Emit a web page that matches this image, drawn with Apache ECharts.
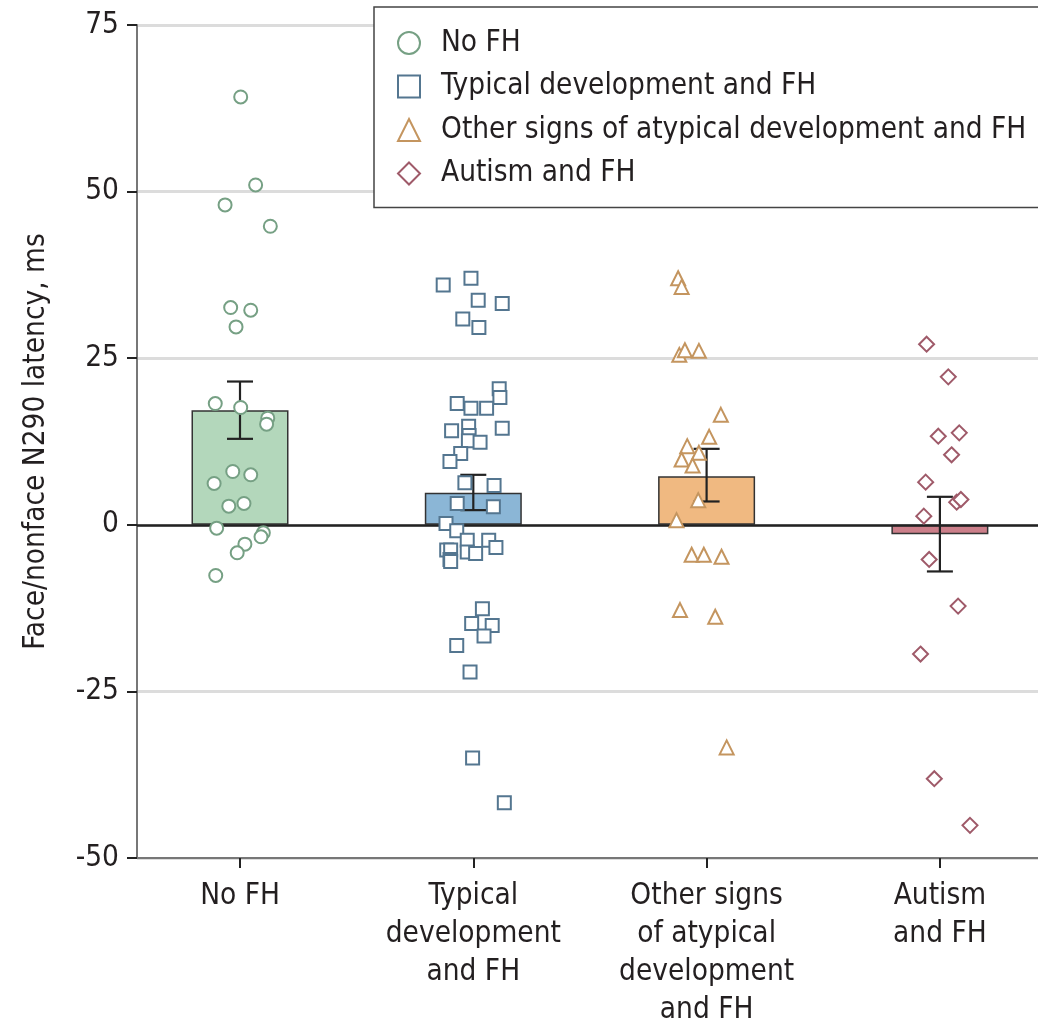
<!DOCTYPE html>
<html>
<head>
<meta charset="utf-8">
<script src="https://cdn.jsdelivr.net/npm/echarts@6/dist/echarts.min.js"></script>
<style>
  html, body { margin: 0; padding: 0; background: #fff; }
  #chart { width: 1038px; height: 1029px; }
</style>
</head>
<body>
<div id="chart"></div>
<script>
var groups = ['No FH', 'Typical development and FH', 'Other signs of atypical development and FH', 'Autism and FH'];
var tickLabels = ['No FH', 'Typical\ndevelopment\nand FH', 'Other signs\nof atypical\ndevelopment\nand FH', 'Autism\nand FH'];
var meanValues = [17.2, 4.8, 7.3, -1.4];
var errLow = [12.9, 2.2, 3.5, -7.0];
var errHigh = [21.5, 7.5, 11.4, 4.2];

// [jittered x position, latency]
var noFhPoints = [
  [1.003, 64.2], [1.067, 51.0], [0.936, 48.0], [1.130, 44.8], [0.960, 32.6], [1.046, 32.2],
  [0.983, 29.7], [0.894, 18.2], [1.003, 17.6], [1.119, 16.0], [1.114, 15.1], [0.969, 8.0],
  [1.046, 7.5], [0.889, 6.2], [0.952, 2.8], [1.017, 3.2], [0.900, -0.5], [1.100, -1.2],
  [1.090, -1.8], [1.021, -2.9], [0.988, -4.2], [0.896, -7.6]
];
var typicalPoints = [
  [1.871, 36.0], [1.990, 37.0], [2.021, 33.7], [2.124, 33.2], [1.955, 30.9], [2.024, 29.6],
  [2.111, 20.4], [2.114, 19.1], [1.931, 18.2], [1.990, 17.5], [2.057, 17.5], [1.907, 14.1],
  [1.980, 14.8], [2.124, 14.5], [1.982, 13.4], [1.979, 12.6], [2.029, 12.4], [1.946, 10.7],
  [1.900, 9.5], [1.964, 6.3], [2.089, 5.9], [1.931, 3.2], [2.086, 2.7], [1.883, 0.2],
  [1.929, -0.9], [1.974, -2.3], [2.066, -2.3], [2.097, -3.4], [1.886, -3.8], [1.903, -3.8],
  [1.974, -4.1], [2.010, -4.3], [1.900, -5.2], [1.903, -5.5], [2.039, -12.6], [1.993, -14.8],
  [2.081, -15.1], [2.046, -16.7], [1.929, -18.1], [1.986, -22.1], [1.997, -35.0], [2.133, -41.7]
];
var otherPoints = [
  [2.878, 37.0], [2.893, 35.7], [2.883, 25.5], [2.907, 26.2], [2.967, 26.1], [3.061, 16.5],
  [3.011, 13.2], [2.917, 11.8], [2.967, 10.8], [2.893, 9.8], [2.940, 8.9], [2.964, 3.7],
  [2.871, 0.7], [2.936, -4.5], [2.988, -4.5], [3.064, -4.8], [2.886, -12.8], [3.037, -13.8],
  [3.086, -33.4]
];
var autismPoints = [
  [3.943, 27.1], [4.036, 22.2], [3.993, 13.3], [4.083, 13.8], [4.050, 10.5], [3.939, 6.4],
  [4.072, 3.4], [4.090, 3.8], [3.931, 1.3], [3.954, -5.2], [4.078, -12.2], [3.917, -19.4],
  [3.976, -38.1], [4.129, -45.1]
];

var strokeColors = ['#76a084', '#547690', '#c4955f', '#9f5a69'];
var barColors = ['#b3d7bb', '#8bb6d6', '#f0b981', '#cc7f8a'];
var symbols = ['circle', 'rect', 'triangle', 'diamond'];
var symbolSizes = [13, 13, 14, 15];
var pointSets = [noFhPoints, typicalPoints, otherPoints, autismPoints];

var font = "'Liberation Sans Narrow', 'DejaVu Sans Condensed', Roboto, sans-serif";
var textColor = '#231f20';
var fontSize = 29.5;

var chartDom = document.getElementById('chart');
var myChart = echarts.init(chartDom);

var scatterSeries = groups.map(function (name, i) {
  return {
    name: name,
    type: 'scatter',
    z: 5,
    symbol: symbols[i],
    symbolSize: symbolSizes[i],
    itemStyle: { color: '#fff', borderColor: strokeColors[i], borderWidth: 2, opacity: 1 },
    data: pointSets[i]
  };
});

var option = {
  animation: false,
  textStyle: { fontFamily: font },
  grid: { left: 137, right: 0, top: 25, bottom: 167 },
  legend: {
    orient: 'vertical',
    left: 374,
    top: 7,
    padding: [21, 60, 19, 23],
    itemGap: 13.5,
    itemWidth: 22,
    itemHeight: 22,
    borderColor: '#444',
    borderWidth: 1.5,
    backgroundColor: '#fff',
    textStyle: { fontFamily: font, fontSize: fontSize, color: textColor, lineHeight: 28, padding: [0, 0, 0, 16] },
    data: groups.map(function (g, i) {
      return { name: g, icon: symbols[i], itemStyle: { color: '#fff', borderColor: strokeColors[i], borderWidth: 2, opacity: 1 } };
    })
  },
  xAxis: {
    type: 'value',
    min: 0.5585,
    max: 4.4205,
    splitLine: { show: false },
    axisLine: { onZero: false, lineStyle: { color: '#777', width: 2 } },
    axisTick: { customValues: [1, 2, 3, 4], length: 10, lineStyle: { color: '#222', width: 2 } },
    axisLabel: {
      customValues: [1, 2, 3, 4],
      margin: 19,
      fontFamily: font,
      fontSize: fontSize,
      lineHeight: 38,
      color: textColor,
      formatter: function (v) { return tickLabels[Math.round(v) - 1]; }
    }
  },
  yAxis: {
    type: 'value',
    min: -50,
    max: 75,
    interval: 25,
    name: 'Face/nonface N290 latency, ms',
    nameLocation: 'middle',
    nameGap: 86,
    nameTextStyle: { fontFamily: font, fontSize: fontSize, color: textColor },
    axisLine: { show: true, onZero: false, lineStyle: { color: '#777', width: 2 } },
    axisTick: { show: true, length: 10, lineStyle: { color: '#222', width: 2 } },
    axisLabel: { margin: 18, fontFamily: font, fontSize: fontSize, color: textColor },
    splitLine: { lineStyle: { color: '#dcdcdc', width: 3 } }
  },
  series: [
    {
      name: 'mean',
      type: 'bar',
      z: 2,
      barWidth: 97,
      data: meanValues.map(function (v, i) {
        return { value: [i + 1, v], itemStyle: { color: barColors[i], borderColor: '#333', borderWidth: 1.5 } };
      }),
      markLine: {
        silent: true,
        symbol: 'none',
        label: { show: false },
        lineStyle: { color: '#222', width: 2.5, type: 'solid' },
        data: [{ yAxis: 0 }]
      }
    },
    {
      name: 'error',
      type: 'custom',
      z: 4,
      data: meanValues.map(function (v, i) { return [i + 1, errLow[i], errHigh[i]]; }),
      renderItem: function (params, api) {
        var lo = api.coord([api.value(0), api.value(1)]);
        var hi = api.coord([api.value(0), api.value(2)]);
        var half = 13;
        var style = { stroke: '#222', lineWidth: 2.2 };
        return {
          type: 'group',
          children: [
            { type: 'line', shape: { x1: lo[0], y1: lo[1], x2: hi[0], y2: hi[1] }, style: style },
            { type: 'line', shape: { x1: lo[0] - half, y1: lo[1], x2: lo[0] + half, y2: lo[1] }, style: style },
            { type: 'line', shape: { x1: hi[0] - half, y1: hi[1], x2: hi[0] + half, y2: hi[1] }, style: style }
          ]
        };
      }
    }
  ].concat(scatterSeries)
};

myChart.setOption(option);
</script>
</body>
</html>
